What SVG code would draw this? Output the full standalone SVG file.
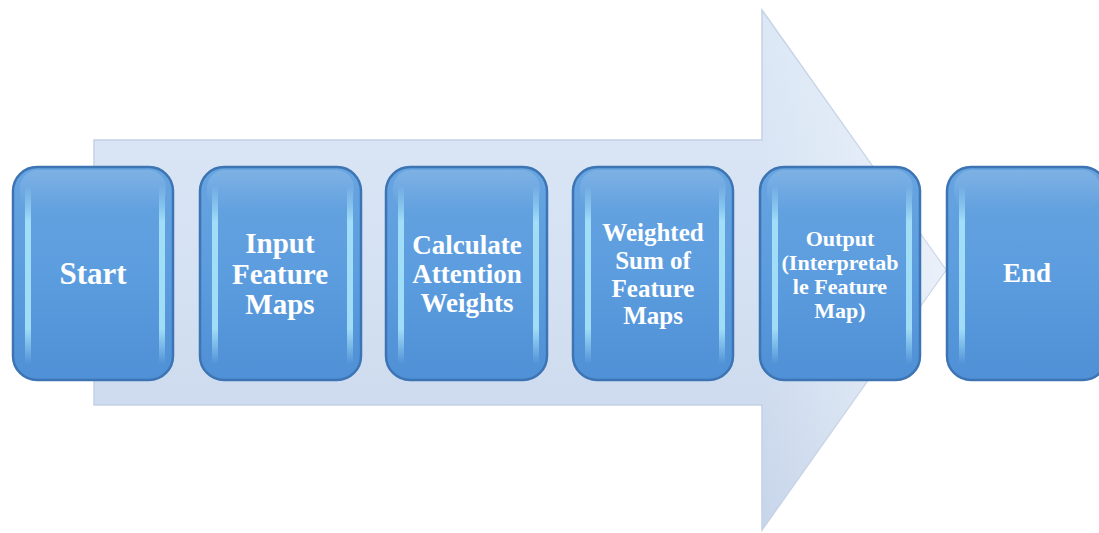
<svg xmlns="http://www.w3.org/2000/svg" width="1099" height="533" viewBox="0 0 1099 533">
<defs>
<linearGradient id="arrowG" x1="0" y1="0" x2="0" y2="1">
<stop offset="0" stop-color="#dde8f6"/>
<stop offset="0.5" stop-color="#d5e2f3"/>
<stop offset="1" stop-color="#c7d5ea"/>
</linearGradient>
<linearGradient id="headSheen" x1="0" y1="0" x2="1" y2="0">
<stop offset="0" stop-color="#ffffff" stop-opacity="0"/>
<stop offset="1" stop-color="#ffffff" stop-opacity="0.5"/>
</linearGradient>
<linearGradient id="boxG" x1="0" y1="0" x2="0" y2="1">
<stop offset="0" stop-color="#67a4e0"/>
<stop offset="0.5" stop-color="#5c9ddf"/>
<stop offset="1" stop-color="#4f90d6"/>
</linearGradient>
<linearGradient id="hiG" x1="0" y1="0" x2="0" y2="1">
<stop offset="0" stop-color="#a8e4fa" stop-opacity="0"/>
<stop offset="0.2" stop-color="#a8e4fa" stop-opacity="0.9"/>
<stop offset="0.8" stop-color="#a8e4fa" stop-opacity="0.9"/>
<stop offset="1" stop-color="#a8e4fa" stop-opacity="0"/>
</linearGradient>
<linearGradient id="topG" x1="0" y1="0" x2="0" y2="1">
<stop offset="0" stop-color="#ffffff" stop-opacity="0.15"/>
<stop offset="1" stop-color="#ffffff" stop-opacity="0"/>
</linearGradient>
</defs>
<style>
.box{fill:url(#boxG);stroke:#3d74b4;stroke-width:2.5}
.hi{fill:url(#hiG)}
.top{fill:url(#topG)}
.t{font-family:"Liberation Serif","Times New Roman",serif;font-weight:bold;fill:#ffffff;text-anchor:middle}
</style>
<g id="arrow">
<path d="M94,140 L762,140 L762,10 L946,270 L762,530 L762,405 L94,405 Z" fill="url(#arrowG)" stroke="#c4d1e5" stroke-width="1.5"/>
<path d="M762,10 L946,270 L762,530 Z" fill="url(#headSheen)"/>
</g>
<g id="node-start">
<rect class="box" x="13" y="167" width="160" height="213" rx="24"/>
<rect class="hi" x="25" y="186" width="6" height="178" rx="3"/>
<rect class="hi" x="159" y="186" width="6" height="178" rx="3"/>
<rect class="top" x="20" y="170" width="146" height="40" rx="18"/>
<text class="t" x="93" y="284" font-size="31">Start</text>
</g>
<g id="node-input">
<rect class="box" x="200" y="167" width="161" height="213" rx="24"/>
<rect class="hi" x="212" y="186" width="6" height="178" rx="3"/>
<rect class="hi" x="347" y="186" width="6" height="178" rx="3"/>
<rect class="top" x="207" y="170" width="147" height="40" rx="18"/>
<text class="t" x="280" y="253" font-size="29">Input</text>
<text class="t" x="280" y="284" font-size="29">Feature</text>
<text class="t" x="280" y="314" font-size="29">Maps</text>
</g>
<g id="node-calc">
<rect class="box" x="386" y="167" width="161" height="213" rx="24"/>
<rect class="hi" x="398" y="186" width="6" height="178" rx="3"/>
<rect class="hi" x="533" y="186" width="6" height="178" rx="3"/>
<rect class="top" x="393" y="170" width="147" height="40" rx="18"/>
<text class="t" x="467" y="254" font-size="27">Calculate</text>
<text class="t" x="467" y="283" font-size="27">Attention</text>
<text class="t" x="467" y="312" font-size="27">Weights</text>
</g>
<g id="node-weighted">
<rect class="box" x="573" y="167" width="160" height="213" rx="24"/>
<rect class="hi" x="585" y="186" width="6" height="178" rx="3"/>
<rect class="hi" x="719" y="186" width="6" height="178" rx="3"/>
<rect class="top" x="580" y="170" width="146" height="40" rx="18"/>
<text class="t" x="653" y="241" font-size="25">Weighted</text>
<text class="t" x="653" y="269" font-size="25">Sum of</text>
<text class="t" x="653" y="297" font-size="25">Feature</text>
<text class="t" x="653" y="324" font-size="25">Maps</text>
</g>
<g id="node-output">
<rect class="box" x="760" y="167" width="160" height="213" rx="24"/>
<rect class="hi" x="772" y="186" width="6" height="178" rx="3"/>
<rect class="hi" x="906" y="186" width="6" height="178" rx="3"/>
<rect class="top" x="767" y="170" width="146" height="40" rx="18"/>
<text class="t" x="840" y="246" font-size="22">Output</text>
<text class="t" x="840" y="270" font-size="22">(Interpretab</text>
<text class="t" x="840" y="294" font-size="22">le Feature</text>
<text class="t" x="840" y="318" font-size="22">Map)</text>
</g>
<g id="node-end">
<rect class="box" x="947" y="167" width="160" height="213" rx="24"/>
<rect class="hi" x="959" y="186" width="6" height="178" rx="3"/>
<rect class="top" x="954" y="170" width="146" height="40" rx="18"/>
<text class="t" x="1027" y="282" font-size="27">End</text>
</g>
<g id="connectors"></g>
</svg>
